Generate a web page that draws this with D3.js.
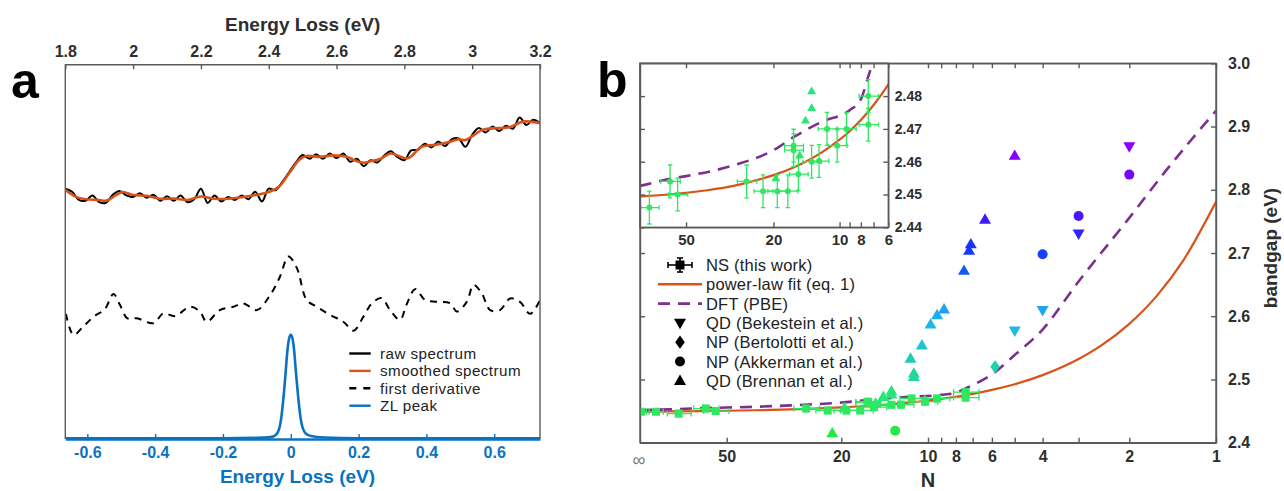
<!DOCTYPE html>
<html><head><meta charset="utf-8">
<script src="https://cdn.jsdelivr.net/npm/d3@7"></script>
<style>body{margin:0;background:#fff} svg{display:block}</style>
</head><body><svg id="c" width="1284" height="491"></svg>
<script>
// ================= DATA: panel a =================
const topTicks = [1.8, 2, 2.2, 2.4, 2.6, 2.8, 3, 3.2];
const bottomTicks = [-0.6, -0.4, -0.2, 0, 0.2, 0.4, 0.6];
const rawE = [1.80,1.82,1.84,1.86,1.88,1.90,1.92,1.94,1.96,1.98,2.00,2.02,2.04,2.06,2.08,2.10,2.12,2.14,2.16,2.18,2.20,2.22,2.24,2.26,2.28,2.30,2.32,2.34,2.36,2.38,2.40,2.42,2.44,2.46,2.48,2.50,2.52,2.54,2.56,2.58,2.60,2.62,2.64,2.66,2.68,2.70,2.72,2.74,2.76,2.78,2.80,2.82,2.84,2.86,2.88,2.90,2.92,2.94,2.96,2.98,3.00,3.02,3.04,3.06,3.08,3.10,3.12,3.14,3.16,3.18,3.20];
const rawI = [0.668,0.660,0.638,0.636,0.650,0.632,0.630,0.652,0.662,0.650,0.646,0.656,0.644,0.652,0.636,0.648,0.636,0.650,0.632,0.640,0.668,0.630,0.650,0.634,0.646,0.638,0.650,0.640,0.660,0.634,0.668,0.664,0.686,0.712,0.738,0.758,0.748,0.760,0.748,0.762,0.750,0.762,0.740,0.748,0.728,0.744,0.738,0.756,0.768,0.752,0.744,0.770,0.772,0.788,0.778,0.794,0.782,0.800,0.802,0.780,0.812,0.830,0.818,0.834,0.822,0.836,0.828,0.858,0.838,0.852,0.843];
const smoothE = [1.80,1.83,1.86,1.90,1.92,1.95,1.97,2.00,2.04,2.08,2.12,2.16,2.20,2.24,2.28,2.32,2.36,2.40,2.43,2.46,2.49,2.51,2.55,2.59,2.63,2.65,2.68,2.70,2.73,2.76,2.81,2.85,2.89,2.93,2.96,2.98,3.03,3.06,3.11,3.15,3.20];
const smoothI = [0.665,0.647,0.640,0.638,0.636,0.651,0.659,0.651,0.649,0.641,0.642,0.638,0.647,0.641,0.641,0.645,0.651,0.659,0.673,0.709,0.745,0.755,0.753,0.757,0.753,0.745,0.737,0.741,0.748,0.762,0.749,0.780,0.785,0.792,0.800,0.798,0.825,0.829,0.832,0.847,0.843];
const derivE = [1.802,1.824,1.853,1.883,1.917,1.942,1.961,1.983,2.011,2.060,2.089,2.124,2.168,2.197,2.217,2.256,2.296,2.325,2.365,2.404,2.433,2.458,2.483,2.512,2.542,2.581,2.620,2.650,2.679,2.704,2.733,2.758,2.787,2.807,2.832,2.861,2.896,2.935,2.955,2.984,3.004,3.028,3.053,3.082,3.112,3.141,3.171,3.200];
const derivI = [0.334,0.278,0.300,0.326,0.347,0.387,0.358,0.322,0.322,0.309,0.335,0.328,0.353,0.340,0.313,0.344,0.353,0.362,0.344,0.384,0.433,0.487,0.456,0.371,0.353,0.331,0.313,0.289,0.326,0.362,0.376,0.344,0.318,0.360,0.400,0.371,0.366,0.362,0.340,0.366,0.411,0.389,0.344,0.344,0.375,0.366,0.334,0.371];
const zlE = [-0.665,-0.2,-0.1,-0.06,-0.045,-0.035,-0.03,-0.025,-0.02,-0.015,-0.01,-0.005,0,0.005,0.01,0.015,0.02,0.025,0.03,0.035,0.045,0.06,0.1,0.2,0.737];
const zlI = [0.002,0.002,0.003,0.005,0.010,0.025,0.045,0.080,0.125,0.180,0.235,0.268,0.278,0.268,0.235,0.180,0.130,0.085,0.050,0.030,0.014,0.008,0.004,0.002,0.002];
const legendA = ["raw spectrum", "smoothed spectrum", "first derivative", "ZL peak"];

// ================= DATA: panel b =================
const mainNTicks = [50, 20, 10, 9, 8, 7, 6, 5, 4, 3, 2, 1];
const mainNLabels = [50, 20, 10, 8, 6, 4, 2, 1];
const gapTicks = [2.4, 2.5, 2.6, 2.7, 2.8, 2.9, 3.0];
const insetNTicks = [50, 20, 10, 9, 8, 7, 6];
const insetNLabels = [50, 20, 10, 8, 6];
const insetGapTicks = [2.44, 2.45, 2.46, 2.47, 2.48];

const nsN    = [99, 88, 73.4, 59.1, 54.6, 26.5, 22.3, 19.2, 17.2, 16.2, 16.2, 15.4, 13.4, 12.4, 11.4, 10.25, 9.3, 7.4, 7.4];
const nsE    = [2.449, 2.449, 2.446, 2.454, 2.450, 2.454, 2.451, 2.451, 2.451, 2.4649, 2.4635, 2.4562, 2.460, 2.4602, 2.470, 2.4649, 2.470, 2.480, 2.4713];
const nsNerr = [4, 5, 7, 6, 5.5, 2.7, 2.2, 2, 1.7, 1.6, 1.6, 1.5, 1.3, 1.2, 1.1, 1.0, 0.9, 0.75, 0.75];
const nsEerr = [0.002, 0.002, 0.005, 0.005, 0.005, 0.005, 0.005, 0.005, 0.005, 0.005, 0.005, 0.005, 0.005, 0.005, 0.005, 0.005, 0.005, 0.005, 0.005];

const brennanN = [21.5, 19.5, 15.2, 14.3, 13.4, 13.4, 11.5, 11.2, 11.2, 10.5, 9.8, 9.3, 8.8, 7.5, 7.2, 7.1, 6.34, 5.0];
const brennanE = [2.415, 2.455, 2.462, 2.4726, 2.4764, 2.4815, 2.533, 2.5096, 2.504, 2.554, 2.587, 2.602, 2.611, 2.672, 2.704, 2.714, 2.753, 2.854];
const bekesteinN = [5.0, 4.0, 3.0, 2.0];
const bekesteinE = [2.577, 2.6096, 2.7306, 2.8685];
const bertolottiN = [5.85];
const bertolottiE = [2.520];
const akkermanN = [13.0, 4.0, 3.0, 2.0];
const akkermanE = [2.419, 2.698, 2.7585, 2.824];

const fitN = [100, 80, 60, 50, 40, 30, 25, 20, 16, 14, 12, 10, 9, 8, 7, 6, 5, 4, 3, 2.5, 2, 1.6, 1.3, 1];
const fitE = [2.4491, 2.4494, 2.4500, 2.4505, 2.4513, 2.4527, 2.4540, 2.4559, 2.4584, 2.4603, 2.4629, 2.4667, 2.4693, 2.4727, 2.4773, 2.4835, 2.4925, 2.5069, 2.5324, 2.5539, 2.5880, 2.6330, 2.6880, 2.7810];
const dftN = [100, 80, 60, 50, 30, 20, 16, 12, 9, 8, 7.4, 7, 6, 5, 4, 3, 2, 1.5, 1];
const dftE = [2.4516, 2.4527, 2.4547, 2.4556, 2.4590, 2.4635, 2.4677, 2.4722, 2.4757, 2.4790, 2.4860, 2.4910, 2.5080, 2.5387, 2.5790, 2.6550, 2.7556, 2.8290, 2.9250];
const legendB = ["NS (this work)", "power-law fit (eq. 1)", "DFT (PBE)", "QD (Bekestein et al.)", "NP (Bertolotti et al.)", "NP (Akkerman et al.)", "QD (Brennan et al.)"];

// ================= STYLE =================
const FONT = '"Liberation Sans", Arial, Helvetica, sans-serif';
const GRAY = "#5a5a5a", TXT = "#2e2e2e";
const BLUE = "#0a72c0", ORANGE = "#D95319", PURPLE = "#7E2F8E", NSGREEN = "#2ee860";
const colorStops = [2.40, 2.47, 2.51, 2.55, 2.60, 2.66, 2.71, 2.76, 2.86];
const colorVals = ["#25e838", "#2ae870", "#1fd6a0", "#1ec6cc", "#1fb0f2", "#1a62f5", "#1436ff", "#4a14ff", "#8a00ff"];
const cE = d3.scaleLinear().domain(colorStops).range(colorVals).clamp(true);

const svg = d3.select("#c");
const lineOf = (xs, ys, sx, sy, curve) =>
  d3.line().x((d, i) => sx(xs[i])).y((d, i) => sy(ys[i])).curve(curve || d3.curveLinear)(xs);

function styleAxis(g, color, fs, weight) {
  g.attr("font-family", FONT);
  g.select(".domain").attr("stroke", color).attr("stroke-width", 1.4);
  g.selectAll(".tick line").attr("stroke", color).attr("stroke-width", 1.4);
  g.selectAll(".tick text").attr("fill", color).attr("font-size", fs).attr("font-weight", weight || "bold");
}

// ================= PANEL a =================
const A = {l: 65.3, r: 540, t: 64.3, b: 439};
const xTop = d3.scaleLinear().domain([1.8, 3.2]).range([A.l, A.r]);
const xBot = d3.scaleLinear().domain([-0.665, 0.735]).range([A.l, A.r]);
const yA = d3.scaleLinear().domain([0, 1]).range([A.b, A.t]);
const ga = svg.append("g");

ga.append("defs").append("clipPath").attr("id", "clipA")
  .append("rect").attr("x", A.l).attr("y", A.t).attr("width", A.r - A.l).attr("height", A.b - A.t);
const gac = ga.append("g").attr("clip-path", "url(#clipA)");

gac.append("path").attr("d", lineOf(rawE, rawI, xTop, yA, d3.curveCatmullRom))
  .attr("fill", "none").attr("stroke", "#000").attr("stroke-width", 2);
gac.append("path").attr("d", lineOf(smoothE, smoothI, xTop, yA, d3.curveCatmullRom))
  .attr("fill", "none").attr("stroke", ORANGE).attr("stroke-width", 2.6);
gac.append("path").attr("d", lineOf(derivE, derivI, xTop, yA, d3.curveCatmullRom))
  .attr("fill", "none").attr("stroke", "#000").attr("stroke-width", 2).attr("stroke-dasharray", "7,6");
gac.append("path").attr("d", lineOf(zlE, zlI, xBot, yA, d3.curveMonotoneX))
  .attr("fill", "none").attr("stroke", BLUE).attr("stroke-width", 2.6);

// frame sides
ga.append("line").attr("x1", A.l).attr("x2", A.l).attr("y1", A.t).attr("y2", A.b).attr("stroke", GRAY).attr("stroke-width", 1.4);
ga.append("line").attr("x1", A.r).attr("x2", A.r).attr("y1", A.t).attr("y2", A.b).attr("stroke", GRAY).attr("stroke-width", 1.4);

const gTop = ga.append("g").attr("transform", `translate(0,${A.t})`)
  .call(d3.axisTop(xTop).tickValues(topTicks).tickSize(-5).tickSizeOuter(0).tickPadding(7.5).tickFormat(d => String(d)));
styleAxis(gTop, GRAY, 16);
gTop.selectAll(".tick text").attr("fill", TXT);

const gBot = ga.append("g").attr("transform", `translate(0,${A.b})`)
  .call(d3.axisBottom(xBot).tickValues(bottomTicks).tickSize(-5).tickSizeOuter(0).tickPadding(7.5)
    .tickFormat(d => d === 0 ? "0" : d.toFixed(1)));
styleAxis(gBot, BLUE, 16);
gBot.select(".domain").attr("stroke-width", 2.4);

ga.append("text").attr("x", (A.l + A.r) / 2).attr("y", 30.5).attr("text-anchor", "middle")
  .attr("font-family", FONT).attr("font-weight", "bold").attr("font-size", 19).attr("fill", TXT).text("Energy Loss (eV)");
ga.append("text").attr("x", 297.5).attr("y", 483).attr("text-anchor", "middle")
  .attr("font-family", FONT).attr("font-weight", "bold").attr("font-size", 19).attr("fill", BLUE).text("Energy Loss (eV)");
ga.append("text").attr("x", 11).attr("y", 98).attr("font-family", FONT).attr("font-weight", "bold")
  .attr("font-size", 50).attr("fill", "#000").text("a");

// legend a
const legA = ga.append("g");
const legAStyles = [
  {c: "#000", dash: null}, {c: ORANGE, dash: null}, {c: "#000", dash: "7,7"}, {c: BLUE, dash: null}
];
legendA.forEach((t, i) => {
  const y = 353.5 + i * 17.4;
  legA.append("line").attr("x1", 349.3).attr("x2", 370.7).attr("y1", y).attr("y2", y)
    .attr("stroke", legAStyles[i].c).attr("stroke-width", 2.4).attr("stroke-dasharray", legAStyles[i].dash);
  legA.append("text").attr("x", 380).attr("y", y + 5.3).attr("font-family", FONT).attr("font-size", 15.2)
    .attr("letter-spacing", 0.45).attr("fill", "#222").text(t);
});

// ================= PANEL b =================
const B = {l: 640, r: 1216, t: 63.3, b: 442.7};
const xN = d3.scaleLog().domain([100, 1]).range([B.l, B.r]);
const yG = d3.scaleLinear().domain([2.4, 3.0]).range([B.b, B.t]);
const gb = svg.append("g");

gb.append("defs").append("clipPath").attr("id", "clipB")
  .append("rect").attr("x", B.l).attr("y", B.t).attr("width", B.r - B.l).attr("height", B.b - B.t);

// axes / frame
const bBot = gb.append("g").attr("transform", `translate(0,${B.b})`)
  .call(d3.axisBottom(xN).tickValues(mainNTicks).tickSize(-5).tickSizeOuter(0).tickPadding(8)
    .tickFormat(d => mainNLabels.includes(d) ? String(d) : ""));
styleAxis(bBot, GRAY, 16);
bBot.selectAll(".tick text").attr("fill", TXT);
const bTop = gb.append("g").attr("transform", `translate(0,${B.t})`)
  .call(d3.axisTop(xN).tickValues(mainNTicks).tickSize(-5).tickSizeOuter(0).tickFormat(""));
styleAxis(bTop, GRAY, 16);
const bLeft = gb.append("g").attr("transform", `translate(${B.l},0)`)
  .call(d3.axisLeft(yG).tickValues(gapTicks).tickSize(-5).tickSizeOuter(0).tickFormat(""));
styleAxis(bLeft, GRAY, 16);
const bRight = gb.append("g").attr("transform", `translate(${B.r},0)`)
  .call(d3.axisRight(yG).tickValues(gapTicks).tickSize(-5).tickSizeOuter(0).tickPadding(12).tickFormat(d3.format(".1f")));
styleAxis(bRight, GRAY, 16);
bRight.selectAll(".tick text").attr("fill", TXT);

gb.append("text").attr("x", B.l - 1).attr("y", 466).attr("text-anchor", "middle").attr("font-family", FONT)
  .attr("font-size", 18).attr("fill", "#777").text("\u221E");
gb.append("text").attr("x", (B.l + B.r) / 2).attr("y", 487).attr("text-anchor", "middle").attr("font-family", FONT)
  .attr("font-weight", "bold").attr("font-size", 20).attr("fill", TXT).text("N");
gb.append("text").attr("transform", "translate(1277,248) rotate(-90)").attr("text-anchor", "middle")
  .attr("font-family", FONT).attr("font-weight", "bold").attr("font-size", 19).attr("fill", TXT).text("bandgap (eV)");
gb.append("text").attr("x", 597).attr("y", 97).attr("font-family", FONT).attr("font-weight", "bold")
  .attr("font-size", 50).attr("fill", "#000").text("b");

// marker shapes
function marker(g, type, x, y, s, color) {
  let d;
  const h = s * 0.866;
  if (type === "tri") d = `M${x},${y - h * 0.6}L${x + s / 2},${y + h * 0.4}L${x - s / 2},${y + h * 0.4}Z`;
  else if (type === "itri") d = `M${x},${y + h * 0.6}L${x + s / 2},${y - h * 0.4}L${x - s / 2},${y - h * 0.4}Z`;
  else if (type === "dia") d = `M${x},${y - s * 0.55}L${x + s * 0.4},${y}L${x},${y + s * 0.55}L${x - s * 0.4},${y}Z`;
  else if (type === "sq") d = `M${x - s / 2},${y - s / 2}h${s}v${s}h${-s}Z`;
  if (type === "circ") return g.append("circle").attr("cx", x).attr("cy", y).attr("r", s / 2).attr("fill", color);
  return g.append("path").attr("d", d).attr("fill", color);
}
function errbar(g, x1, x2, y1, y2, x, y, color, cap, w) {
  g.append("line").attr("x1", x1).attr("x2", x2).attr("y1", y).attr("y2", y).attr("stroke", color).attr("stroke-width", w);
  g.append("line").attr("x1", x).attr("x2", x).attr("y1", y1).attr("y2", y2).attr("stroke", color).attr("stroke-width", w);
  [x1, x2].forEach(xx => g.append("line").attr("x1", xx).attr("x2", xx).attr("y1", y - cap).attr("y2", y + cap).attr("stroke", color).attr("stroke-width", w));
  [y1, y2].forEach(yy => g.append("line").attr("x1", x - cap).attr("x2", x + cap).attr("y1", yy).attr("y2", yy).attr("stroke", color).attr("stroke-width", w));
}

function drawData(g, sx, sy, sc, nsShape) {
  g.append("path").attr("d", lineOf(fitN, fitE, sx, sy, d3.curveMonotoneX)).attr("fill", "none")
    .attr("stroke", ORANGE).attr("stroke-width", 2.2);
  g.append("path").attr("d", lineOf(dftN, dftE, sx, sy, d3.curveMonotoneX)).attr("fill", "none")
    .attr("stroke", PURPLE).attr("stroke-width", 2.6).attr("stroke-dasharray", "12,8");
  nsN.forEach((n, i) => {
    const x = sx(n), y = sy(nsE[i]);
    errbar(g, sx(n + nsNerr[i]), sx(n - nsNerr[i]), sy(nsE[i] + nsEerr[i]), sy(nsE[i] - nsEerr[i]), x, y, NSGREEN, 3 * sc, 1.3);
  });
  nsN.forEach((n, i) => marker(g, nsShape, sx(n), sy(nsE[i]), 8 * sc, NSGREEN));
  bertolottiN.forEach((n, i) => marker(g, "dia", sx(n), sy(bertolottiE[i]), 12 * sc, cE(bertolottiE[i])));
  akkermanN.forEach((n, i) => marker(g, "circ", sx(n), sy(akkermanE[i]), 10 * sc, cE(akkermanE[i])));
  bekesteinN.forEach((n, i) => marker(g, "itri", sx(n), sy(bekesteinE[i]), 12 * sc, cE(bekesteinE[i])));
  brennanN.forEach((n, i) => marker(g, "tri", sx(n), sy(brennanE[i]), 12 * sc, cE(brennanE[i])));
}

const gMain = gb.append("g").attr("clip-path", "url(#clipB)");
drawData(gMain, xN, yG, 1, "sq");
gb.append("rect").attr("x", B.l).attr("y", B.t).attr("width", B.r - B.l).attr("height", B.b - B.t)
  .attr("fill", "none").attr("stroke", GRAY).attr("stroke-width", 1.4);

// ---- inset ----
const I = {l: 640, r: 888.3, t: 63.3, b: 227.3};
const xI = d3.scaleLog().domain([81, 6]).range([I.l, I.r]);
const yI = d3.scaleLinear().domain([2.44, 2.49]).range([I.b, I.t]);
const gi = svg.append("g");
gi.append("rect").attr("x", I.l).attr("y", I.t).attr("width", I.r - I.l).attr("height", I.b - I.t).attr("fill", "#fff");
gi.append("defs").append("clipPath").attr("id", "clipI")
  .append("rect").attr("x", I.l).attr("y", I.t).attr("width", I.r - I.l).attr("height", I.b - I.t);
const giC = gi.append("g").attr("clip-path", "url(#clipI)");
drawData(giC, xI, yI, 0.75, "circ");

const iBot = gi.append("g").attr("transform", `translate(0,${I.b})`)
  .call(d3.axisBottom(xI).tickValues(insetNTicks).tickSize(-5).tickSizeOuter(0).tickPadding(7.5)
    .tickFormat(d => insetNLabels.includes(d) ? String(d) : ""));
styleAxis(iBot, GRAY, 15);
iBot.selectAll(".tick text").attr("fill", TXT);
const iTop = gi.append("g").attr("transform", `translate(0,${I.t})`)
  .call(d3.axisTop(xI).tickValues(insetNTicks).tickSize(-5).tickSizeOuter(0).tickFormat(""));
styleAxis(iTop, GRAY, 15);
const iLeft = gi.append("g").attr("transform", `translate(${I.l},0)`)
  .call(d3.axisLeft(yI).tickValues(insetGapTicks).tickSize(-5).tickSizeOuter(0).tickFormat(""));
styleAxis(iLeft, GRAY, 15);
const iRight = gi.append("g").attr("transform", `translate(${I.r},0)`)
  .call(d3.axisRight(yI).tickValues(insetGapTicks).tickSize(-5).tickSizeOuter(0).tickPadding(6.5).tickFormat(d3.format(".2f")));
styleAxis(iRight, GRAY, 14);
iRight.selectAll(".tick text").attr("fill", TXT);
gi.append("rect").attr("x", I.l).attr("y", I.t).attr("width", I.r - I.l).attr("height", I.b - I.t)
  .attr("fill", "none").attr("stroke", GRAY).attr("stroke-width", 1.4);

// ---- legend b ----
const lb = svg.append("g");
const lx = 680, tx = 706;
legendB.forEach((t, i) => {
  const y = 265 + i * 19.3;
  if (i === 0) {
    errbar(lb, lx - 12, lx + 12, y - 7, y + 7, lx, y, "#000", 3, 1.6);
    marker(lb, "sq", lx, y, 9, "#000");
  } else if (i === 1) {
    lb.append("line").attr("x1", 658).attr("x2", 702).attr("y1", y).attr("y2", y).attr("stroke", ORANGE).attr("stroke-width", 2.4);
  } else if (i === 2) {
    lb.append("line").attr("x1", 658).attr("x2", 702).attr("y1", y).attr("y2", y).attr("stroke", PURPLE)
      .attr("stroke-width", 2.6).attr("stroke-dasharray", "12,8");
  } else {
    const type = ["itri", "dia", "circ", "tri"][i - 3];
    const s = type === "circ" ? 10 : 12;
    marker(lb, type, lx, y, s, "#000");
  }
  lb.append("text").attr("x", tx).attr("y", y + 6).attr("font-family", FONT).attr("font-size", 16.5)
    .attr("letter-spacing", 0.2).attr("fill", "#222").text(t);
});
</script>
</body></html>
